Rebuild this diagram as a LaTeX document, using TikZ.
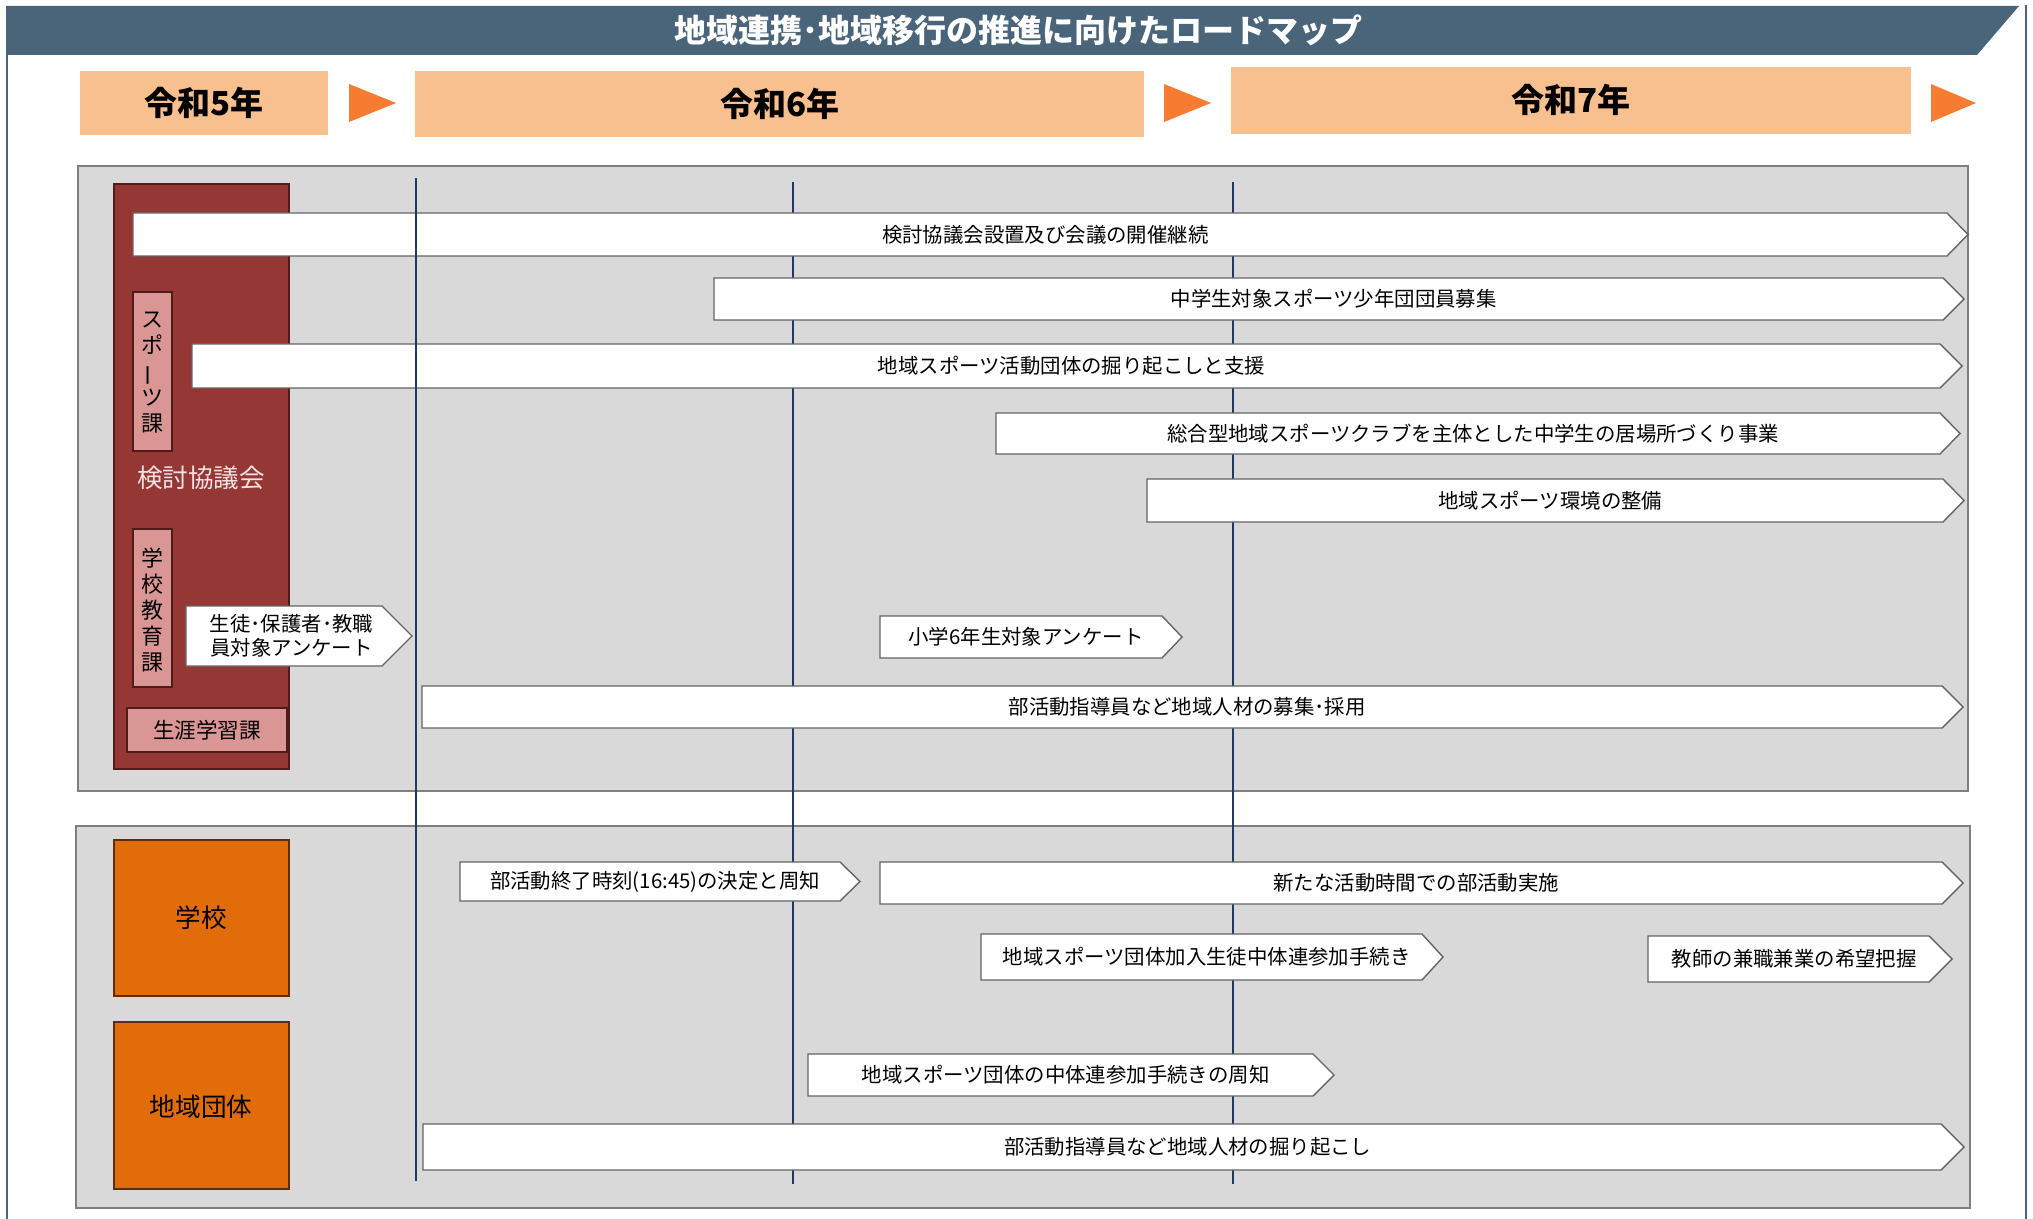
\documentclass[tikz,border=0pt]{standalone}
\usepackage{fontspec}
\setmainfont{Noto Sans CJK JP}
\definecolor{titleblue}{RGB}{74,101,122}
\definecolor{peach}{RGB}{249,192,143}
\definecolor{tri}{RGB}{245,124,48}
\definecolor{panel}{RGB}{217,217,217}
\definecolor{panelborder}{RGB}{127,127,127}
\definecolor{darkred}{RGB}{149,55,53}
\definecolor{darkredborder}{RGB}{80,28,27}
\definecolor{pinkbox}{RGB}{217,150,148}
\definecolor{orangebox}{RGB}{227,108,10}
\definecolor{orangeborder}{RGB}{95,45,10}
\definecolor{navyline}{RGB}{32,56,100}
\definecolor{boxgray}{RGB}{100,100,100}
\definecolor{labelwhite}{RGB}{245,225,225}
\newcommand\arrbox[7]{%
  \draw[abox] (#2,#3) -- ({#4-#6},#3) -- (#4,{(#3+#5)/2}) -- ({#4-#6},#5) -- (#2,#5) -- cycle;
  \node[boxtext] (#1) at ({(#2+#4-#6/2)/2},{(#3+#5)/2}) {#7};
}
\begin{document}
\begin{tikzpicture}[x=0.5pt,y=-0.5pt,
  every node/.style={inner sep=0pt},
  boxtext/.style={font=\fontsize{10.2pt}{12pt}\selectfont, align=center},
  abox/.style={fill=white, draw=boxgray, line width=0.7pt, line join=miter},
  yearbox/.style={fill=peach},
  yeartext/.style={font=\fontsize{16.5pt}{18pt}\selectfont\bfseries},
  tristyle/.style={fill=tri},
  panelstyle/.style={fill=panel, draw=panelborder, line width=0.8pt},
  vline/.style={draw=navyline, line width=1.2pt},
  redbox/.style={fill=darkred, draw=darkredborder, line width=0.7pt},
  pinkstyle/.style={fill=pinkbox, draw=darkredborder, line width=0.6pt},
  orangestyle/.style={fill=orangebox, draw=orangeborder, line width=0.7pt},
  sidetext/.style={font=\fontsize{12.8pt}{15pt}\selectfont},
  verttext/.style={font=\fontsize{11pt}{13pt}\selectfont, align=center}
]
\useasboundingbox (0,0) rectangle (2033,1219);
\fill[white] (0,0) rectangle (2033,1219);

% outer frame and title
\draw[titleblue, line width=1pt] (7,54) -- (7,1219);
\draw[titleblue, line width=1.1pt] (2026,5) -- (2026,1219);
\fill[titleblue] (6,6) -- (2019,6) -- (1977,55) -- (6,55) -- cycle;
\node[font=\fontsize{16pt}{18pt}\selectfont\bfseries, text=white] (title) at (1018,30) {地域連携･地域移行の推進に向けたロードマップ};

% years
\fill[yearbox] (80,71) rectangle (328,135);
\node[yeartext] (y5) at (204,103) {令和5年};
\fill[tristyle] (349,84) -- (396,103) -- (349,122) -- cycle;
\fill[yearbox] (415,71) rectangle (1144,137);
\node[yeartext] (y6) at (780,104) {令和6年};
\fill[tristyle] (1164,84) -- (1211,103) -- (1164,122) -- cycle;
\fill[yearbox] (1231,67) rectangle (1911,134);
\node[yeartext] (y7) at (1571,100) {令和7年};
\fill[tristyle] (1931,84) -- (1976,103) -- (1931,122) -- cycle;

% panels
\draw[panelstyle] (78,166) rectangle (1968,791);
\draw[panelstyle] (76,826) rectangle (1970,1208);

% vertical lines behind boxes
\coordinate (v2t) at (793,182); \coordinate (v2b) at (793,1184);
\coordinate (v3t) at (1233,182); \coordinate (v3b) at (1233,1184);
\draw[vline] (v2t) -- (v2b);
\draw[vline] (v3t) -- (v3b);

% left council block
\draw[redbox] (114,184) rectangle (289,769);
\draw[pinkstyle] (133,292) rectangle (172,451);
\node[verttext] (sports) at (152,373) {ス\\ポ\\\rotatebox[origin=c]{90}{ー}\\ツ\\課};
\node[sidetext, text=labelwhite] (council) at (201,478) {検討協議会};
\draw[pinkstyle] (133,529) rectangle (172,687);
\node[verttext] (schooledu) at (152,610) {学\\校\\教\\育\\課};
\draw[pinkstyle] (127,708) rectangle (287,752);
\node[font=\fontsize{10.8pt}{13pt}\selectfont] (lifelong) at (207,730) {生涯学習課};

% lower left blocks
\draw[orangestyle] (114,840) rectangle (289,996);
\node[sidetext] (school) at (201,918) {学校};
\draw[orangestyle] (114,1022) rectangle (289,1189);
\node[sidetext] (community) at (201,1107) {地域団体};

% upper arrows
\arrbox{a1}{133}{213}{1968}{256}{21}{検討協議会設置及び会議の開催継続}
\arrbox{a2}{714}{278}{1964}{320}{21}{中学生対象スポーツ少年団団員募集}
\arrbox{a3}{192}{344}{1962}{388}{22}{地域スポーツ活動団体の掘り起こしと支援}
\arrbox{a4}{996}{413}{1960}{454}{20}{総合型地域スポーツクラブを主体とした中学生の居場所づくり事業}
\arrbox{a5}{1147}{479}{1964}{522}{21}{地域スポーツ環境の整備}
\arrbox{a6}{186}{606}{412}{666}{30}{生徒･保護者･教職\\員対象アンケート}
\arrbox{a7}{880}{616}{1182}{658}{20}{小学6年生対象アンケート}
\arrbox{a8}{422}{686}{1963}{728}{21}{部活動指導員など地域人材の募集･採用}

% lower arrows
\arrbox{b1}{460}{862}{860}{901}{20}{部活動終了時刻(16:45)の決定と周知}
\arrbox{b2}{880}{862}{1963}{904}{21}{新たな活動時間での部活動実施}
\arrbox{b3}{981}{934}{1443}{980}{21}{地域スポーツ団体加入生徒中体連参加手続き}
\arrbox{b4}{1648}{936}{1952}{982}{23}{教師の兼職兼業の希望把握}
\arrbox{b5}{808}{1054}{1334}{1096}{21}{地域スポーツ団体の中体連参加手続きの周知}
\arrbox{b6}{423}{1124}{1964}{1170}{23}{部活動指導員など地域人材の掘り起こし}

% first vertical line on top
\coordinate (v1t) at (416,178); \coordinate (v1b) at (416,1181);
\draw[vline] (v1t) -- (v1b);
\end{tikzpicture}
\end{document}
